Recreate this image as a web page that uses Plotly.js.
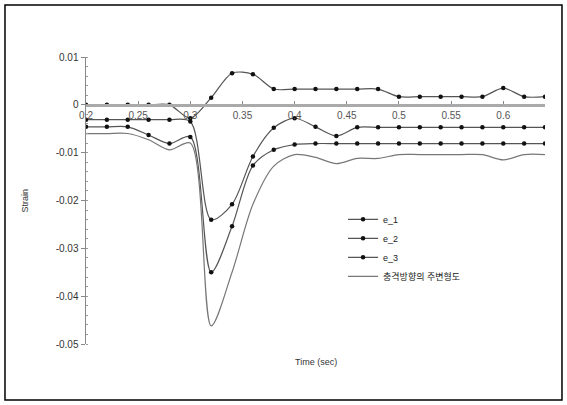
<!DOCTYPE html>
<html>
<head>
<meta charset="utf-8">
<script src="https://cdn.plot.ly/plotly-3.0.1.min.js"></script>
<style>html,body{margin:0;padding:0;background:#fff}#chart{width:567px;height:405px}</style>
</head>
<body>
<div id="chart"></div>
<script>
// time samples (sec)
const time = [0.20,0.22,0.24,0.26,0.28,0.30,0.32,0.34,0.36,0.38,0.40,0.42,0.44,0.46,0.48,0.50,0.52,0.54,0.56,0.58,0.60,0.62,0.64];
// strain series
const e1 = [0,0,0,0,0,-0.0028,0.0015,0.0066,0.0064,0.0033,0.0033,0.0033,0.0033,0.0033,0.0033,0.0017,0.0017,0.0017,0.0017,0.0017,0.0035,0.0017,0.0017];
const e2 = [-0.0031,-0.0031,-0.0031,-0.0031,-0.0031,-0.0035,-0.024,-0.0208,-0.0108,-0.0048,-0.0028,-0.0046,-0.0065,-0.0047,-0.0047,-0.0047,-0.0047,-0.0047,-0.0047,-0.0047,-0.0047,-0.0047,-0.0047];
const e3 = [-0.0046,-0.0046,-0.0046,-0.0063,-0.0081,-0.0067,-0.035,-0.0254,-0.0127,-0.0094,-0.0083,-0.0081,-0.0081,-0.0081,-0.0081,-0.0081,-0.0081,-0.0081,-0.0081,-0.0081,-0.0081,-0.0081,-0.0081];
const principal = [-0.006,-0.006,-0.006,-0.0073,-0.0094,-0.008,-0.0462,-0.035,-0.0208,-0.0128,-0.0104,-0.011,-0.0123,-0.0112,-0.0112,-0.0104,-0.0104,-0.0104,-0.0104,-0.0104,-0.0115,-0.0104,-0.0104];
const names = ['e_1','e_2','e_3','충격방향의 주변형도'];
const xTickVals = [0.2,0.25,0.3,0.35,0.4,0.45,0.5,0.55,0.6];
const xTickText = ['0.2','0.25','0.3','0.35','0.4','0.45','0.5','0.55','0.6'];
const yTickVals = [0.01,0,-0.01,-0.02,-0.03,-0.04,-0.05];
const yTickText = ['0.01','0','-0.01','-0.02','-0.03','-0.04','-0.05'];

const markerTrace = (y, name) => ({
  x: time, y: y, name: name, type: 'scatter', mode: 'lines+markers',
  line: {color: '#555', width: 1.2, shape: 'spline', smoothing: 0.85},
  marker: {color: '#111', size: 4.5, symbol: 'circle'}
});
const data = [
  markerTrace(e1, names[0]),
  markerTrace(e2, names[1]),
  markerTrace(e3, names[2]),
  {x: time, y: principal, name: names[3], type: 'scatter', mode: 'lines',
   line: {color: '#777', width: 1.2, shape: 'spline', smoothing: 0.85}}
];

const layout = {
  width: 567, height: 405,
  margin: {l: 86, r: 22, t: 57, b: 61},
  paper_bgcolor: '#fff', plot_bgcolor: '#fff',
  font: {family: 'Liberation Sans, Arial, Noto Sans CJK KR', size: 10, color: '#333'},
  showlegend: true,
  legend: {x: 0.56, y: 0.485, xanchor: 'left', yanchor: 'top',
           font: {size: 9, color: '#222', family: 'Liberation Sans, Noto Sans CJK KR'},
           bgcolor: 'rgba(0,0,0,0)', tracegroupgap: 0},
  xaxis: {
    range: [0.2, 0.64], anchor: 'free', position: 5/6,
    showgrid: false, zeroline: false,
    showline: true, linecolor: '#aaa', linewidth: 3,
    ticks: 'inside', ticklen: 3, tickcolor: '#888',
    tickvals: xTickVals, ticktext: xTickText,
    tickfont: {size: 10, color: '#555'}
  },
  yaxis: {
    range: [-0.05, 0.01], showgrid: false, zeroline: false,
    showline: true, linecolor: '#888', linewidth: 1.5,
    ticks: 'outside', ticklen: 4, tickcolor: '#888',
    tickvals: yTickVals, ticktext: yTickText,
    tickfont: {size: 10, color: '#333'},
    minor: {dtick: 0.002, ticks: 'inside', ticklen: 2, tickcolor: '#999', showgrid: false}
  },
  annotations: [
    {text: 'Time (sec)', xref: 'paper', yref: 'paper', x: 0.5, y: -0.063,
     xanchor: 'center', yanchor: 'middle', showarrow: false, font: {size: 9, color: '#333'}},
    {text: 'Strain', xref: 'paper', yref: 'paper', x: -0.133, y: 0.5, textangle: -90,
     xanchor: 'center', yanchor: 'middle', showarrow: false, font: {size: 9, color: '#333'}}
  ],
  shapes: [
    {type: 'rect', xref: 'paper', yref: 'paper', x0: -0.1765, x1: 1.037, y0: -0.195, y1: 1.181,
     line: {color: '#000', width: 1.5}, fillcolor: 'rgba(0,0,0,0)'}
  ]
};

Plotly.newPlot('chart', data, layout, {staticPlot: true, displayModeBar: false});
</script>
</body>
</html>
